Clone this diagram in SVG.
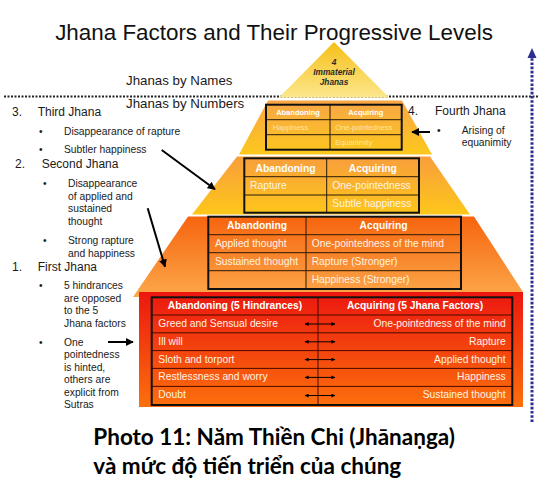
<svg xmlns="http://www.w3.org/2000/svg" width="553" height="491" viewBox="0 0 553 491">
<style>
  text { font-family: "Liberation Sans", Arial, sans-serif; }
  .title { font-size: 22.4px; fill: #111; }
  .axis { font-size: 13.3px; fill: #1a1a1a; }
  .num { font-size: 12px; fill: #1a1a1a; }
  .note { font-size: 10.3px; fill: #1a1a1a; }
  .hd { font-size: 10.3px; font-weight: bold; fill: #ffffff; }
  .cell { font-size: 10.3px; fill: #fff3e2; }
  .hd4 { font-size: 7.5px; font-weight: bold; fill: #ffffff; }
  .cell4 { font-size: 7.5px; fill: #fde6a8; }
  .imm { font-size: 8.3px; font-weight: bold; font-style: italic; fill: #2a2a2a; }
  .tbl { fill: none; stroke: #111; stroke-width: 2; }
  .grid { fill: none; stroke: #2a1a08; stroke-width: 1; }
  .grid1 { fill: none; stroke: #4a0a00; stroke-width: 1; }
  .conn { fill: none; stroke: #000; stroke-width: 2; }
  .dbl { fill: none; stroke: #000; stroke-width: 1; }
  .caption { font-family: Lato, "Open Sans", sans-serif; font-weight: bold; font-size: 22.5px; fill: #000; }
</style>
<defs>
  <linearGradient id="gApex" x1="0" y1="0" x2="0" y2="1">
    <stop offset="0" stop-color="#f6bf16"/>
    <stop offset="1" stop-color="#fce78e"/>
  </linearGradient>
  <linearGradient id="g4" x1="0" y1="0" x2="0" y2="1">
    <stop offset="0" stop-color="#f8a646"/>
    <stop offset="1" stop-color="#fcc81c"/>
  </linearGradient>
  <linearGradient id="g3" x1="0" y1="0" x2="0" y2="1">
    <stop offset="0" stop-color="#f89e3c"/>
    <stop offset="1" stop-color="#fdc71a"/>
  </linearGradient>
  <linearGradient id="g2" x1="0" y1="0" x2="0" y2="1">
    <stop offset="0" stop-color="#f6640e"/>
    <stop offset="1" stop-color="#fca84a"/>
  </linearGradient>
  <linearGradient id="g1" x1="0" y1="0" x2="0" y2="1">
    <stop offset="0" stop-color="#ec1710"/>
    <stop offset="1" stop-color="#fc700c"/>
  </linearGradient>
  <marker id="ah" viewBox="0 0 10 10" refX="9" refY="5" markerWidth="4" markerHeight="4" orient="auto" markerUnits="strokeWidth">
    <path d="M0,0 L10,5 L0,10 Z" fill="#000"/>
  </marker>
  <marker id="ahs" viewBox="0 0 10 10" refX="9" refY="5" markerWidth="5" markerHeight="4" orient="auto-start-reverse" markerUnits="strokeWidth">
    <path d="M0,0 L10,5 L0,10 Z" fill="#000"/>
  </marker>
</defs>

<rect width="553" height="491" fill="#ffffff"/>

<g id="title">
  <text class="title" x="274" y="40" text-anchor="middle">Jhana Factors and Their Progressive Levels</text>
</g>

<g id="axis-labels">
  <text class="axis" x="126" y="85">Jhanas by Names</text>
  <text class="axis" x="126" y="108">Jhanas by Numbers</text>
  <line x1="4" y1="96.5" x2="538" y2="96.5" stroke="#222" stroke-width="1.8" stroke-dasharray="2 1.5"/>
</g>

<g id="progress-arrow">
  <line x1="532" y1="422" x2="532" y2="57" stroke="#2e2e90" stroke-width="3" stroke-dasharray="2.6 1.6"/>
  <polygon points="532,48 527.5,58 536.5,58" fill="#2e2e90"/>
</g>

<g id="immaterial">
  <polygon points="334,42 279,97.5 389,97.5" fill="url(#gApex)"/>
  <text class="imm" x="334" y="64.5" text-anchor="middle">4</text>
  <text class="imm" x="334" y="75.3" text-anchor="middle">Immaterial</text>
  <text class="imm" x="334" y="85.3" text-anchor="middle">Jhanas</text>
</g>

<g id="tier4">
  <polygon points="268,100.5 402,100.5 432,154.5 239,154.5" fill="url(#g4)"/>
  <line class="grid" x1="266" y1="119.7" x2="401.7" y2="119.7"/>
  <line class="grid" x1="266" y1="134.7" x2="401.7" y2="134.7"/>
  <line class="grid" x1="330" y1="104.7" x2="330" y2="149.7"/>
  <rect class="tbl" x="266" y="104.7" width="135.7" height="45"/>
  <text class="hd4" x="298" y="115" text-anchor="middle">Abandoning</text>
  <text class="hd4" x="365.8" y="115" text-anchor="middle">Acquiring</text>
  <text class="cell4" x="272.7" y="129.7">Happiness</text>
  <text class="cell4" x="335.3" y="129.7">One-pointedness</text>
  <text class="cell4" x="335.3" y="144.7">Equanimity</text>
</g>

<g id="tier3">
  <polygon points="237,156.5 430,156.5 470,214.5 192,214.5" fill="url(#g3)"/>
  <line class="grid" x1="244.3" y1="176.7" x2="419" y2="176.7"/>
  <line class="grid" x1="244.3" y1="195" x2="419" y2="195"/>
  <line class="grid" x1="326.7" y1="158.3" x2="326.7" y2="212.7"/>
  <rect class="tbl" x="244.3" y="158.3" width="174.7" height="54.4"/>
  <text class="hd" x="285.5" y="171.5" text-anchor="middle">Abandoning</text>
  <text class="hd" x="372.8" y="171.5" text-anchor="middle">Acquiring</text>
  <text class="cell" x="250" y="189.3">Rapture</text>
  <text class="cell" x="332.3" y="189.3">One-pointedness</text>
  <text class="cell" x="332.3" y="206.7">Subtle happiness</text>
</g>

<g id="tier2">
  <polygon points="188,216.5 474,216.5 523,292 133,297" fill="url(#g2)"/>
  <line class="grid" x1="208.3" y1="234.7" x2="461" y2="234.7"/>
  <line class="grid" x1="208.3" y1="252.7" x2="461" y2="252.7"/>
  <line class="grid" x1="208.3" y1="270.7" x2="461" y2="270.7"/>
  <line class="grid" x1="306" y1="216.7" x2="306" y2="289"/>
  <rect class="tbl" x="208.3" y="216.7" width="252.7" height="72.3"/>
  <text class="hd" x="257" y="229.3" text-anchor="middle">Abandoning</text>
  <text class="hd" x="383.5" y="229.3" text-anchor="middle">Acquiring</text>
  <text class="cell" x="215" y="247.3">Applied thought</text>
  <text class="cell" x="215" y="265.3">Sustained thought</text>
  <text class="cell" x="311.7" y="247.3">One-pointedness of the mind</text>
  <text class="cell" x="311.7" y="265.3">Rapture (Stronger)</text>
  <text class="cell" x="311.7" y="283.3">Happiness (Stronger)</text>
</g>

<g id="tier1">
  <rect x="139" y="292" width="384" height="115" fill="url(#g1)"/>
  <line class="grid1" x1="151.7" y1="315" x2="512.3" y2="315"/>
  <line class="grid1" x1="151.7" y1="332.8" x2="512.3" y2="332.8"/>
  <line class="grid1" x1="151.7" y1="350.6" x2="512.3" y2="350.6"/>
  <line class="grid1" x1="151.7" y1="368.4" x2="512.3" y2="368.4"/>
  <line class="grid1" x1="151.7" y1="386.4" x2="512.3" y2="386.4"/>
  <line class="grid1" x1="318" y1="297.3" x2="318" y2="405"/>
  <rect class="tbl" x="151.7" y="297.3" width="360.6" height="107.7"/>
  <text class="hd" x="235" y="309.3" text-anchor="middle">Abandoning (5 Hindrances)</text>
  <text class="hd" x="415" y="309.3" text-anchor="middle">Acquiring (5 Jhana Factors)</text>
  <text class="cell" x="158.3" y="327">Greed and Sensual desire</text>
  <text class="cell" x="158.3" y="344.8">Ill will</text>
  <text class="cell" x="158.3" y="362.6">Sloth and torport</text>
  <text class="cell" x="158.3" y="380.4">Restlessness and worry</text>
  <text class="cell" x="158.3" y="398.4">Doubt</text>
  <text class="cell" x="505.7" y="327" text-anchor="end">One-pointedness of the mind</text>
  <text class="cell" x="505.7" y="344.8" text-anchor="end">Rapture</text>
  <text class="cell" x="505.7" y="362.6" text-anchor="end">Applied thought</text>
  <text class="cell" x="505.7" y="380.4" text-anchor="end">Happiness</text>
  <text class="cell" x="505.7" y="398.4" text-anchor="end">Sustained thought</text>
</g>

<g id="third-jhana-note">
  <text class="num" x="12" y="115.7">3.</text>
  <text class="num" x="37.7" y="115.7">Third Jhana</text>
  <text class="note" x="39" y="135">•</text>
  <text class="note" x="64" y="135">Disappearance of rapture</text>
  <text class="note" x="39" y="153">•</text>
  <text class="note" x="64" y="153">Subtler happiness</text>
</g>

<g id="second-jhana-note">
  <text class="num" x="15" y="168">2.</text>
  <text class="num" x="41.7" y="168">Second Jhana</text>
  <text class="note" x="43" y="187">•</text>
  <text class="note" x="68" y="187">Disappearance</text>
  <text class="note" x="68" y="199.5">of applied and</text>
  <text class="note" x="68" y="212">sustained</text>
  <text class="note" x="68" y="224.5">thought</text>
  <text class="note" x="43" y="244">•</text>
  <text class="note" x="68" y="244">Strong rapture</text>
  <text class="note" x="68" y="256.5">and happiness</text>
</g>

<g id="first-jhana-note">
  <text class="num" x="12" y="270.5">1.</text>
  <text class="num" x="37.7" y="270.5">First Jhana</text>
  <text class="note" x="39" y="289">•</text>
  <text class="note" x="64" y="289">5 hindrances</text>
  <text class="note" x="64" y="301.5">are opposed</text>
  <text class="note" x="64" y="314">to the 5</text>
  <text class="note" x="64" y="326.5">Jhana factors</text>
  <text class="note" x="39" y="345.5">•</text>
  <text class="note" x="64" y="345.5">One</text>
  <text class="note" x="64" y="358">pointedness</text>
  <text class="note" x="64" y="370.5">is hinted,</text>
  <text class="note" x="64" y="383">others are</text>
  <text class="note" x="64" y="395.5">explicit from</text>
  <text class="note" x="64" y="408">Sutras</text>
</g>

<g id="fourth-jhana-note">
  <text class="num" x="408" y="115">4.</text>
  <text class="num" x="435" y="115">Fourth Jhana</text>
  <text class="note" x="437" y="134">•</text>
  <text class="note" x="461.7" y="134">Arising of</text>
  <text class="note" x="461.7" y="146.3">equanimity</text>
</g>

<g id="connectors">
  <line class="conn" x1="161.7" y1="150" x2="215" y2="189.3" marker-end="url(#ah)"/>
  <line class="conn" x1="147.7" y1="208.3" x2="165" y2="266.7" marker-end="url(#ah)"/>
  <line class="conn" x1="108" y1="342" x2="133" y2="342" marker-end="url(#ah)"/>
  <line class="conn" x1="430" y1="132" x2="412" y2="132" marker-end="url(#ah)"/>
  <line class="dbl" x1="305" y1="324" x2="335" y2="324" marker-start="url(#ahs)" marker-end="url(#ahs)"/>
  <line class="dbl" x1="305" y1="341.8" x2="335" y2="341.8" marker-start="url(#ahs)" marker-end="url(#ahs)"/>
  <line class="dbl" x1="305" y1="359.6" x2="335" y2="359.6" marker-start="url(#ahs)" marker-end="url(#ahs)"/>
  <line class="dbl" x1="305" y1="377.4" x2="335" y2="377.4" marker-start="url(#ahs)" marker-end="url(#ahs)"/>
  <line class="dbl" x1="305" y1="395.5" x2="335" y2="395.5" marker-start="url(#ahs)" marker-end="url(#ahs)"/>
</g>

<g id="caption">
  <text class="caption" x="93.3" y="444.5">Photo 11: Năm Thiền Chi (Jhānaṇga)</text>
  <text class="caption" x="93.3" y="474">và mức độ tiến triển của chúng</text>
</g>
</svg>
